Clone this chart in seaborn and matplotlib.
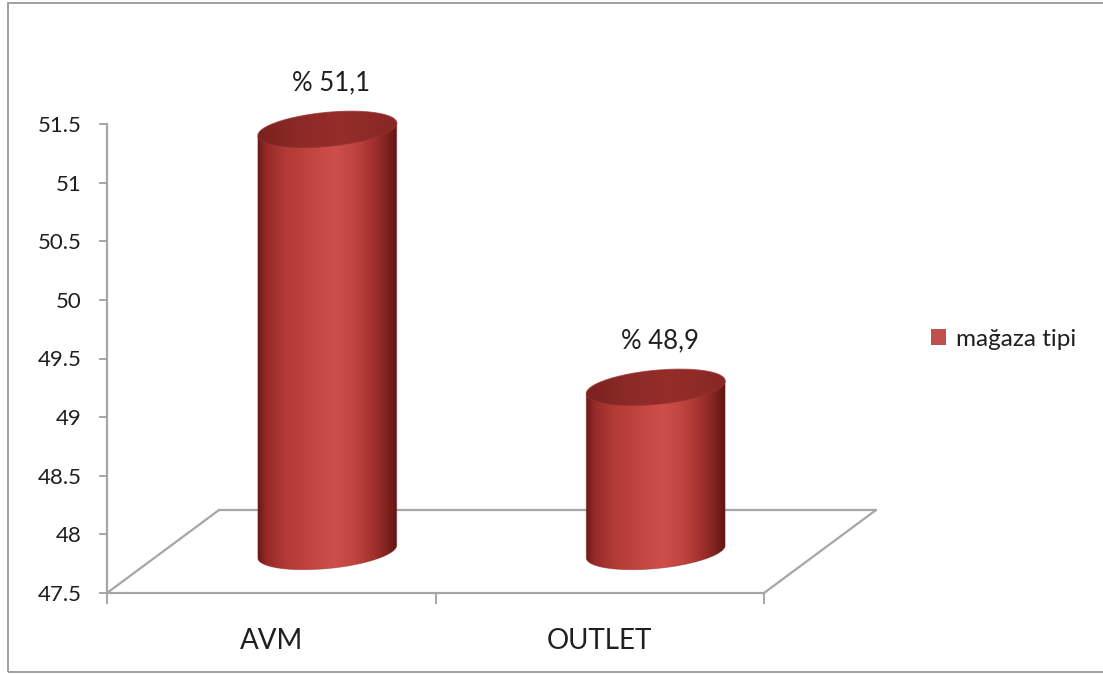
import numpy as np
import pandas as pd
import matplotlib
matplotlib.use("Agg")
import matplotlib.pyplot as plt
from matplotlib.patches import Rectangle, PathPatch
from matplotlib.path import Path
from matplotlib.lines import Line2D
from matplotlib.colors import LinearSegmentedColormap
import seaborn as sns

# ---- data ----
categories = ["AVM", "OUTLET"]
shares = [51.1, 48.9]
series_name = "mağaza tipi"
y_ticks = [47.5, 48, 48.5, 49, 49.5, 50, 50.5, 51, 51.5]
y_tick_labels = ["47.5", "48", "48.5", "49", "49.5", "50", "50.5", "51", "51.5"]
value_labels = ["% " + f"{v:.1f}".replace(".", ",") for v in shares]

# ---- style ----
sns.set_style("white")
plt.rcParams["font.family"] = ["Lato", "DejaVu Sans"]
TEXT = "#1f1f1f"
GRID = "#a6a6a6"
BAR = "#c0504d"

W, H, DPI = 1103, 674, 100
fig = plt.figure(figsize=(W / DPI, H / DPI), dpi=DPI)
fig.patch.set_facecolor("white")

ax = fig.add_axes([107 / W, 81 / H, 657 / W, 469 / H])
df = pd.DataFrame({"tip": categories, "oran": shares})
sns.barplot(data=df, x="tip", y="oran", color=BAR, width=0.425,
            saturation=1, ax=ax)
ax.set_xlim(-0.5, 1.5)
ax.set_ylim(y_ticks[0], y_ticks[-1])
ax.set_xlabel("")
ax.set_ylabel("")
ax.set_yticks(y_ticks)
ax.set_yticklabels(y_tick_labels)
ax.set_xticks([0, 1])
ax.set_xticklabels(categories)
ax.set_xticks([-0.5, 0.5, 1.5], minor=True)
for side in ["top", "right"]:
    ax.spines[side].set_visible(False)
for side in ["left", "bottom"]:
    ax.spines[side].set_color(GRID)
    ax.spines[side].set_linewidth(1.6)
ax.tick_params(axis="y", which="major", left=True, direction="out",
               length=6, width=1.4, color=GRID, labelsize=16,
               labelcolor=TEXT, pad=12)
ax.tick_params(axis="x", which="major", bottom=True, length=0,
               labelsize=20, labelcolor=TEXT, pad=25)
ax.tick_params(axis="x", which="minor", bottom=True, direction="out",
               length=8, width=1.4, color=GRID)
ax.patch.set_visible(False)

bars = list(ax.patches)
for b in bars:
    b.set_visible(False)

# pixel-space overlay for the floor and the cylinders
ov = fig.add_axes([0, 0, 1, 1], zorder=2)
ov.set_xlim(0, W)
ov.set_ylim(0, H)
ov.axis("off")
ov.patch.set_visible(False)

depth = np.array([112.0, 83.0])   # floor depth in pixels (right, up)
half = depth / 2

# floor outline
p00 = ax.transAxes.transform((0, 0))
p10 = ax.transAxes.transform((1, 0))
for a_pt, b_pt in [(p00, p00 + depth), (p10, p10 + depth),
                   (p00 + depth, p10 + depth)]:
    ov.add_line(Line2D([a_pt[0], b_pt[0]], [a_pt[1], b_pt[1]],
                       color=GRID, lw=1.6, zorder=1))

body_cmap = LinearSegmentedColormap.from_list("body", [
    (0.00, "#6a1a18"), (0.06, "#962b28"), (0.20, "#b33a36"),
    (0.45, "#c84945"), (0.56, "#cd4e4a"), (0.70, "#c0443f"),
    (0.85, "#9c2e2b"), (0.95, "#781f1c"), (1.00, "#611614")])
cap_cmap = LinearSegmentedColormap.from_list("cap", [
    (0.00, "#7a2220"), (0.30, "#8c2a27"), (0.60, "#952d2a"),
    (1.00, "#882725")])

theta = np.deg2rad(5.5)
b_ax = 17.0


def ellipse(cx, cy, a, t):
    x = a * np.cos(t)
    y = b_ax * np.sin(t)
    return np.column_stack([cx + x * np.cos(theta) - y * np.sin(theta),
                            cy + x * np.sin(theta) + y * np.cos(theta)])


grad = np.linspace(0, 1, 256)[None, :]
for bar in bars:
    left, width, val = bar.get_x(), bar.get_width(), bar.get_height()
    cx = left + width / 2
    xl = ax.transData.transform((left, y_ticks[0]))
    xr = ax.transData.transform((left + width, y_ticks[0]))
    top = ax.transData.transform((cx, val)) + half
    bot = ax.transData.transform((cx, y_ticks[0])) + half
    a = (xr[0] - xl[0]) / 2

    t_low = np.linspace(np.pi, 2 * np.pi, 80)
    bottom_arc = ellipse(bot[0], bot[1], a, t_low)
    tl = ellipse(top[0], top[1], a, np.array([np.pi]))[0]
    tr = ellipse(top[0], top[1], a, np.array([0.0]))[0]
    body = np.vstack([tl, bottom_arc, tr, tl])
    body_patch = PathPatch(Path(body), facecolor="none", edgecolor="none")
    ov.add_patch(body_patch)
    x0, x1 = body[:, 0].min(), body[:, 0].max()
    y0, y1 = body[:, 1].min(), body[:, 1].max()
    im = ov.imshow(grad, extent=[x0, x1, y0, y1], aspect="auto",
                   cmap=body_cmap, interpolation="bilinear", zorder=3)
    im.set_clip_path(body_patch)
    ov.add_patch(PathPatch(Path(body), facecolor="none",
                           edgecolor="#8a2a27", lw=0.6, alpha=0.5, zorder=3.5))

    cap = ellipse(top[0], top[1], a, np.linspace(0, 2 * np.pi, 160))
    cap_patch = PathPatch(Path(cap), facecolor="none", edgecolor="none")
    ov.add_patch(cap_patch)
    im2 = ov.imshow(grad, extent=[cap[:, 0].min(), cap[:, 0].max(),
                                  cap[:, 1].min(), cap[:, 1].max()],
                    aspect="auto", cmap=cap_cmap, interpolation="bilinear",
                    zorder=4)
    im2.set_clip_path(cap_patch)
    ov.add_patch(PathPatch(Path(cap), facecolor="none", edgecolor="#9a3330",
                           lw=0.8, alpha=0.7, zorder=4.5))

ov.set_xlim(0, W)
ov.set_ylim(0, H)

# value labels above each cylinder
px2pt = 72 / DPI
for bar, txt in zip(bars, value_labels):
    cx = bar.get_x() + bar.get_width() / 2
    ax.annotate(txt, xy=(cx, bar.get_height()),
                xytext=(60 * px2pt, 88 * px2pt), textcoords="offset points",
                ha="center", va="center", fontsize=18.5, color=TEXT,
                annotation_clip=False)

# legend
handle = Rectangle((0, 0), 1, 1, facecolor=BAR, edgecolor="none")
fig.legend([handle], [series_name], loc="center left",
           bbox_to_anchor=(931 / W, (H - 339) / H), frameon=False,
           fontsize=17.5, labelcolor=TEXT, handlelength=0.62,
           handleheight=0.62, handletextpad=0.4, borderpad=0,
           borderaxespad=0)

# chart-area border
fig.add_artist(Rectangle((8 / W, 2 / H), (W + 20) / W, (669 / H),
                         transform=fig.transFigure, facecolor="none",
                         edgecolor="#a0a0a0", lw=1.4))

fig.savefig("out.png", dpi=DPI)
